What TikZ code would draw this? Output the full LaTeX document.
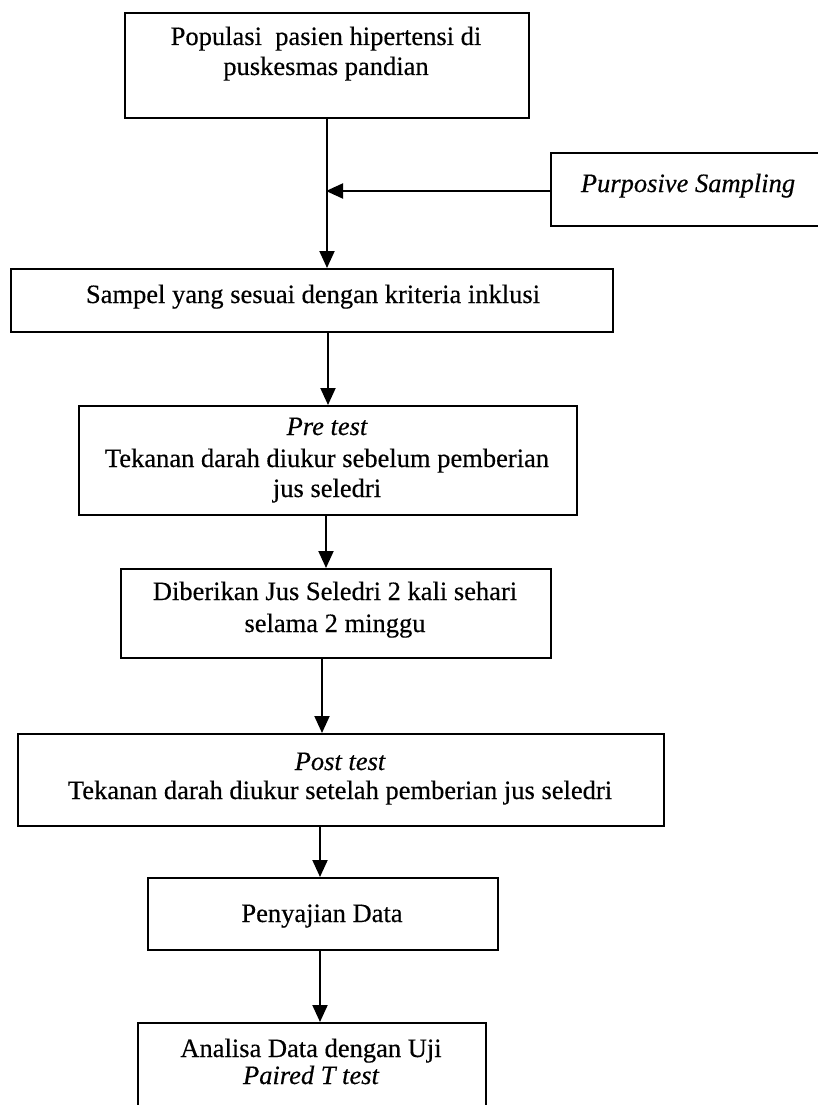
\documentclass[tikz,border=0pt]{standalone}
\usepackage{fontspec}
\setmainfont{Liberation Serif}[FakeBold=0.4, ItalicFeatures={FakeBold=0.4}]
\usetikzlibrary{arrows.meta}
\begin{document}
\begin{tikzpicture}[x=1pt,y=-1pt,
  box/.style={draw, line width=2pt, rectangle, inner sep=0pt, anchor=north west},
  arr/.style={line width=2pt, -{Triangle[length=17pt,width=15pt]}},
  txt/.style={font=\fontsize{26.5}{30.5}\selectfont, inner sep=0pt, anchor=base}]
\useasboundingbox (0,0) rectangle (818,1105);
\clip (0,0) rectangle (818,1105);
% boxes
\node[box, minimum width=404pt, minimum height=105pt] (b1) at (124,12) {};
\node[box, minimum width=300pt, minimum height=73pt] (purp) at (550,152) {};
\node[box, minimum width=602pt, minimum height=63pt] (b2) at (10,268) {};
\node[box, minimum width=498pt, minimum height=109pt] (b3) at (78,405) {};
\node[box, minimum width=430pt, minimum height=89pt] (b4) at (120,568) {};
\node[box, minimum width=646pt, minimum height=92pt] (b5) at (17,733) {};
\node[box, minimum width=350pt, minimum height=72pt] (b6) at (147,877) {};
\node[box, minimum width=348pt, minimum height=110pt] (b7) at (137,1022) {};
% texts
\node[txt] (t1a) at (326,45) {Populasi\ \ pasien hipertensi di};
\node[txt] (t1b) at (326,75) {puskesmas pandian};
\node[txt] (tp) at (688,192) {\itshape Purposive Sampling};
\node[txt] (t2) at (313,303) {Sampel yang sesuai dengan kriteria inklusi};
\node[txt] (t3a) at (327,435) {\itshape Pre test};
\node[txt] (t3b) at (327,467) {Tekanan darah diukur sebelum pemberian};
\node[txt] (t3c) at (327,497) {jus seledri};
\node[txt] (t4a) at (335,600) {Diberikan Jus Seledri 2 kali sehari};
\node[txt] (t4b) at (335,632) {selama 2 minggu};
\node[txt] (t5a) at (340,770) {\itshape Post test};
\node[txt] (t5b) at (340,799) {Tekanan darah diukur setelah pemberian jus seledri};
\node[txt] (t6) at (322,922) {Penyajian Data};
\node[txt] (t7a) at (311,1057) {Analisa Data dengan Uji};
\node[txt] (t7b) at (311,1084) {\itshape Paired T test};
% connectors
\coordinate (j) at (326,191);
\draw[arr] (b1.south) -- (b1.south |- b2.north);
\draw[arr] (purp.west |- j) -- (j);
\draw[arr] (b2.south -| 328,0) -- (b3.north -| 328,0);
\draw[arr] (b3.south -| 326,0) -- (b4.north -| 326,0);
\draw[arr] (b4.south -| 322,0) -- (b5.north -| 322,0);
\draw[arr] (b5.south -| 320,0) -- (b6.north -| 320,0);
\draw[arr] (b6.south -| 320,0) -- (b7.north -| 320,0);
\end{tikzpicture}
\end{document}
